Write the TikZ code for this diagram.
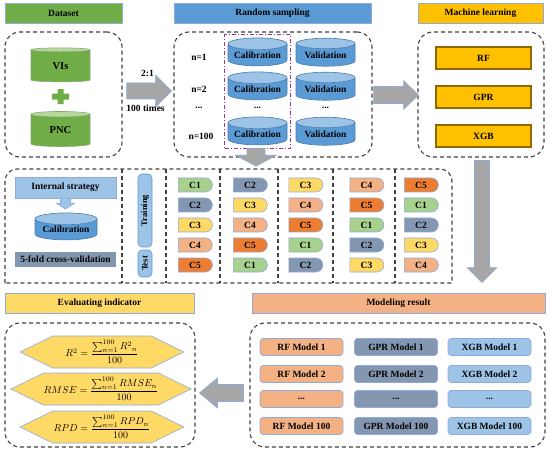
\documentclass[tikz,border=0pt]{standalone}
\usepackage{amsmath}
\usepackage{fontspec}
\setmainfont{Liberation Serif}
\usetikzlibrary{shapes.geometric,shapes.symbols,shapes.misc,positioning,calc,fit}

\definecolor{hdline}{HTML}{8FAADC}
\definecolor{dashgray}{HTML}{404040}
\definecolor{dsgreen}{HTML}{70AD47}
\definecolor{dsgreenlt}{HTML}{B5D99C}
\definecolor{smblue}{HTML}{5B9BD5}
\definecolor{smbluelt}{HTML}{9DC3E6}
\definecolor{mlgold}{HTML}{FFC000}
\definecolor{evyellow}{HTML}{FFD966}
\definecolor{mdorange}{HTML}{F4B183}
\definecolor{slate}{HTML}{8497B0}
\definecolor{arrgray}{HTML}{A6A6A6}
\definecolor{c1}{HTML}{A9D18E}
\definecolor{c2}{HTML}{8497B0}
\definecolor{c3}{HTML}{FFD966}
\definecolor{c4}{HTML}{F4B183}
\definecolor{c5}{HTML}{ED7D31}

\begin{document}
\begin{tikzpicture}[x=1pt, y=-1pt, font=\fontsize{9.5}{11}\selectfont\bfseries,
		header/.style={draw=hdline, line width=0.8pt, minimum height=20, inner sep=0},
		dashbox/.style={draw=dashgray, line width=1.1pt, dash pattern=on 4pt off 3pt, rounded corners=15, inner sep=0},
		dashline/.style={draw=dashgray, line width=1.1pt, dash pattern=on 4pt off 3pt},
		greendrum/.style={cylinder, shape border rotate=90, aspect=0.25, draw=c1!80!black, line width=0.6pt,
			cylinder uses custom fill, cylinder body fill=dsgreen, cylinder end fill=dsgreenlt, inner sep=0},
		bluedrum/.style={cylinder, shape border rotate=90, aspect=0.25, draw=smblue!80!black, line width=0.6pt,
			cylinder uses custom fill, cylinder body fill=smblue, cylinder end fill=smbluelt, inner sep=0},
		blockarr/.style={draw=hdline, fill=arrgray, line width=0.6pt},
		mlbar/.style={draw=mlgold!55!black, fill=mlgold, line width=1pt, double=mlgold!70!white, double distance=0pt,
			minimum width=95, minimum height=22, inner sep=0},
		fold/.style={rounded rectangle, rounded rectangle left arc=none, draw=hdline, line width=0.6pt,
			minimum width=34, minimum height=14, inner sep=0},
		tbox/.style={draw=smblue, fill=smbluelt, rounded corners=4, line width=0.6pt, inner sep=0,
			font=\fontsize{8.5}{10}\selectfont\bfseries},
		hexa/.style={signal, signal to=west and east, signal pointer angle=52, draw=hdline, fill=evyellow,
			line width=0.6pt, minimum height=32, inner sep=0, font=\fontsize{10}{12}\selectfont},
		mbox/.style={draw=hdline, rounded corners=3, line width=0.6pt, minimum width=83, minimum height=17, inner sep=0}
	]
	\useasboundingbox (0,0) rectangle (550,452);

	\node[header, fill=dsgreen, minimum width=117] (hdata) at (63.5,13) {Dataset};
	\node[header, fill=smblue, minimum width=197] (hsamp) at (272.5,13) {Random sampling};
	\node[header, fill=mlgold, minimum width=125] (hml) at (480.5,13) {Machine learning};
	\node[header, fill=evyellow, minimum width=189] (heval) at (99.5,303) {Evaluating indicator};
	\node[header, fill=mdorange, minimum width=293] (hmod) at (398.5,303) {Modeling result};

	\node[dashbox, minimum width=117, minimum height=125] (bdata) at (63.5,94.5) {};
	\node[dashbox, minimum width=198, minimum height=125] (bsamp) at (273,94.5) {};
	\node[dashbox, minimum width=126, minimum height=125] (bml) at (481,94.5) {};
	\node[dashbox, minimum width=190, minimum height=124] (beval) at (100,385) {};
	\node[dashbox, minimum width=295, minimum height=124] (bmod) at (397.5,385) {};
	\draw[dashline] (5,283) -- (5,181) arc[start angle=180, end angle=270, radius=12]
		-- (440,169) arc[start angle=270, end angle=360, radius=12] -- (452,283) -- cycle;
	\foreach \x in {122,166,220,278,333,395}
		\draw[dashline] (\x,169) -- (\x,283);

	\node[greendrum, minimum width=59, minimum height=34, font=\fontsize{10.5}{12}\selectfont\bfseries] (vis) at (60.5,66) {VIs};
	\node[greendrum, minimum width=59, minimum height=35, font=\fontsize{10.5}{12}\selectfont\bfseries] (pnc) at (60.5,130.5) {PNC};
	\coordinate (plus) at ($(vis.south)!0.5!(pnc.north)$);
	\fill[dsgreen] ([shift={(-8.5,-3)}]plus) rectangle ([shift={(8.5,3)}]plus)
		([shift={(-3,-7.5)}]plus) rectangle ([shift={(3,7.5)}]plus);

	\coordinate (a1) at ($(bdata.east)+(4,-3.5)$);
	\draw[blockarr] (a1) ++(0,-8) -- ++(29,0) -- ++(0,-8) -- ++(16,16) -- ++(-16,16) -- ++(0,-8) -- ++(-29,0) -- cycle;
	\node[inner sep=0] (lratio) at ($(a1)+(21,-18)$) {2:1};
	\node[inner sep=0] (ltimes) at ($(a1)+(19,17)$) {100 times};

	\node (n1) at (199,57) {n=1};
	\node (n2) at (199,89) {n=2};
	\node (n3) at (199,108) {...};
	\node (n4) at (201,136) {n=100};
	\node[bluedrum, minimum width=59, minimum height=28] (cal1) at (257.5,55) {Calibration};
	\node[bluedrum, minimum width=59, minimum height=28] (cal2) at (257.5,89) {Calibration};
	\node (cal3) at (257.5,108) {...};
	\node[bluedrum, minimum width=59, minimum height=28] (cal4) at (257.5,134) {Calibration};
	\node[bluedrum, minimum width=59, minimum height=28] (val1) at (325.5,55) {Validation};
	\node[bluedrum, minimum width=59, minimum height=28] (val2) at (325.5,89) {Validation};
	\node (val3) at (325.5,108) {...};
	\node[bluedrum, minimum width=59, minimum height=28] (val4) at (325.5,134) {Validation};
	\node[draw=violet!80!white, dash pattern=on 4pt off 2pt on 1pt off 2pt, line width=0.9pt, inner sep=3,
		fit=(cal1)(cal4)] (calgrp) {};

	\coordinate (a2) at ($(bsamp.east)+(1,0.5)$);
	\draw[blockarr] (a2) ++(0,-8.5) -- ++(30,0) -- ++(0,-6) -- ++(15,14.5) -- ++(-15,14.5) -- ++(0,-6) -- ++(-30,0) -- cycle;
	\coordinate (a3) at ($(calgrp.south)+(-1.5,-0.5)$);
	\draw[blockarr] (a3) ++(-9,0) -- ++(0,7) -- ++(-11.5,0) -- ++(20.5,11) -- ++(20.5,-11) -- ++(-11.5,0) -- ++(0,-7) -- cycle;

	\node[mlbar] (rf) at (483.5,58) {RF};
	\node[mlbar] (gpr) at (483.5,97) {GPR};
	\node[mlbar] (xgb) at (483.5,136) {XGB};

	\coordinate (a4) at ($(bml.south)+(1,3)$);
	\draw[blockarr] (a4) ++(-7.5,0) -- ++(0,107) -- ++(-7.5,0) -- ++(15,15) -- ++(15,-15) -- ++(-7.5,0) -- ++(0,-107) -- cycle;

	\node[draw=hdline, fill=smbluelt, minimum width=101, minimum height=21, inner sep=0] (strat) at (65.5,187.5) {Internal strategy};
	\draw[draw=hdline, fill=smbluelt, line width=0.6pt] (strat.south) ++(-5,0) -- ++(0,5) -- ++(-4,0) -- ++(9,6)
		-- ++(9,-6) -- ++(-4,0) -- ++(0,-5) -- cycle;
	\node[bluedrum, minimum width=62, minimum height=27] (calin) at (66,229.5) {Calibration};
	\node[fill=slate, minimum width=101, minimum height=15, inner sep=0] (cv) at (65.5,259.5) {5-fold cross-validation};

	\node[tbox, rotate=90, minimum width=73, minimum height=14] (train) at (145,210.5) {Training};
	\node[tbox, rotate=90, minimum width=27, minimum height=14] (test) at (145,263.5) {Test};

	\foreach \col/\cx in {1/195,2/250,3/305.5,4/366.5,5/421}
		\foreach \row/\cy in {1/185,2/205,3/225,4/245,5/265}
		{
			\pgfmathtruncatemacro\k{mod(\col+\row-2,5)+1}
			\node[fold, fill=c\k] (f\col\row) at (\cx,\cy) {C\k};
		}

	\node[hexa, minimum width=164] (er2) at (102,352) {$R^2=\dfrac{\textstyle\sum_{n=1}^{100}{R^2}_n}{100}$};
	\node[hexa, minimum width=172] (ermse) at (101,389) {$RMSE=\dfrac{\textstyle\sum_{n=1}^{100}RMSE_n}{100}$};
	\node[hexa, minimum width=164] (erpd) at (102,427) {$RPD=\dfrac{\textstyle\sum_{n=1}^{100}RPD_n}{100}$};

	\foreach \m/\mx/\clr in {RF/301.5/mdorange,GPR/396/slate,XGB/489.5/smbluelt}
	{
		\node[mbox, fill=\clr] (\m1) at (\mx,347) {\m\ Model 1};
		\node[mbox, fill=\clr] (\m2) at (\mx,374) {\m\ Model 2};
		\node[mbox, fill=\clr] (\m3) at (\mx,399) {...};
		\node[mbox, fill=\clr] (\m4) at (\mx,426) {\m\ Model 100};
	}

	\coordinate (a5) at ($(bmod.west)+(-6,8)$);
	\draw[blockarr] (a5) ++(0,-8.5) -- ++(-26,0) -- ++(0,-6.5) -- ++(-18,15) -- ++(18,15) -- ++(0,-6.5) -- ++(26,0) -- cycle;
\end{tikzpicture}
\end{document}
